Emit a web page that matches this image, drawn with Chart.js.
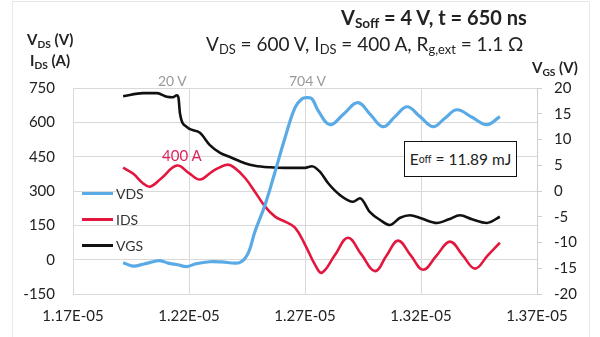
<!DOCTYPE html>
<html>
<head>
<meta charset="utf-8">
<script src="https://cdn.jsdelivr.net/npm/chart.js@4.4.1/dist/chart.umd.min.js"></script>
<style>
  body { margin: 0; background: #fff; }
  #wrap { position: relative; width: 600px; height: 337px; font-family: Lato, "Open Sans", sans-serif; color: #222; }
  #frame { position: absolute; left: 12px; top: 1px; width: 576px; height: 345px; border: 1px solid #e8e8e8; }
  canvas { position: absolute; left: 0; top: 0; }
  .t { position: absolute; white-space: nowrap; line-height: 1; }
  sub { font-size: 0.68em; vertical-align: -0.25em; line-height: 0; }
  #eoff { position: absolute; left: 404px; top: 141px; width: 111px; height: 34px; border: 1.5px solid #111;
          background: #fff; font-size: 15.5px; display: flex; align-items: center; justify-content: center; }
  .leg { position: absolute; left: 82px; font-size: 14px; color: #333; display: flex; align-items: center; }
  .leg i { display: inline-block; width: 31px; height: 3px; margin-right: 3px; }
</style>
</head>
<body>
<div id="wrap">
  <div id="frame"></div>
  <canvas id="c" width="600" height="337"></canvas>
  <div class="t" style="left:341px;top:7px;font-size:20px;font-weight:bold;">V<sub>Soff</sub> = 4 V, t = 650 ns</div>
  <div class="t" style="left:206px;top:34px;font-size:19px;">V<sub>DS</sub> = 600 V, I<sub>DS</sub> = 400 A, R<sub>g,ext</sub> = 1.1 Ω</div>
  <div class="t" style="left:27px;top:32px;font-size:15px;font-weight:bold;">V<sub>DS</sub> (V)</div>
  <div class="t" style="left:30px;top:53px;font-size:15px;font-weight:bold;">I<sub>DS</sub> (A)</div>
  <div class="t" style="left:532px;top:60px;font-size:15px;font-weight:bold;">V<sub>GS</sub> (V)</div>
  <div class="t" style="left:158px;top:74px;font-size:14px;color:#999;">20 V</div>
  <div class="t" style="left:289px;top:74px;font-size:14px;color:#999;">704 V</div>
  <div class="t" style="left:162px;top:148px;font-size:15px;color:#e0245a;">400 A</div>
  <div id="eoff">E<sub>off</sub>&nbsp;= 11.89 mJ</div>
  <div id="legend"></div>
</div>
<script>
// time stamps (s) and values
const vdsTime = [1.1916, 1.1959, 1.2002, 1.2050, 1.2075, 1.2110, 1.2150, 1.2191, 1.2230, 1.2290, 1.2340, 1.2398,
  1.2420, 1.2441, 1.2460, 1.2484, 1.2528, 1.2571, 1.2614, 1.2657, 1.2687, 1.2709, 1.2730, 1.2758, 1.2808, 1.2868,
  1.2928, 1.2982, 1.3036, 1.3088, 1.3140, 1.3196, 1.3252, 1.3303, 1.3355, 1.3420, 1.3484, 1.3540];
const vdsValues = [-13, -28, -20, -8, -4, -15, -22, -30, -18, -9, -10, -15,
  -12, 5, 40, 122, 240, 384, 533, 664, 703, 708, 703, 649, 590, 638,
  686, 634, 581, 625, 668, 625, 581, 618, 655, 622, 590, 625];

const idsTime = [1.1916, 1.1960, 1.2000, 1.2032, 1.2080, 1.2148, 1.2200, 1.2247, 1.2300, 1.2364, 1.2398, 1.2441,
  1.2484, 1.2528, 1.2571, 1.2614, 1.2657, 1.2700, 1.2743, 1.2773, 1.2829, 1.2885, 1.2943, 1.3002, 1.3051, 1.3101,
  1.3155, 1.3209, 1.3267, 1.3325, 1.3379, 1.3433, 1.3487, 1.3540];
const idsValues = [402, 375, 335, 319, 355, 411, 378, 350, 385, 415, 400, 358,
  297, 232, 188, 166, 140, 66, -22, -57, 20, 96, 23, -50, 17, 83,
  20, -44, 18, 79, 20, -39, 18, 74];

const vgsTime = [1.1916, 1.2002, 1.2062, 1.2105, 1.2130, 1.2148, 1.2155, 1.2161, 1.2191, 1.2247, 1.2290, 1.2334,
  1.2377, 1.2441, 1.2484, 1.2549, 1.2614, 1.2700, 1.2730, 1.2765, 1.2800, 1.2851, 1.2907, 1.2937, 1.2980, 1.3023,
  1.3066, 1.3110, 1.3153, 1.3200, 1.3269, 1.3320, 1.3368, 1.3420, 1.3484, 1.3540];
const vgsValues = [18.4, 19.0, 19.0, 18.3, 18.2, 18.6, 18.0, 15.1, 12.4, 11.3, 8.9, 7.4,
  6.6, 5.4, 4.9, 4.6, 4.5, 4.5, 4.8, 3.7, 1.5, -0.8, -2.1, -1.4, -4.1, -5.6,
  -6.6, -5.2, -4.7, -5.3, -6.2, -5.5, -4.7, -5.5, -6.2, -5.0];

const xTicks = [1.17e-5, 1.22e-5, 1.27e-5, 1.32e-5, 1.37e-5];
const leftTicks = [-150, 0, 150, 300, 450, 600, 750];
const rightTicks = [-20, -15, -10, -5, 0, 5, 10, 15, 20];

const toPoints = (ts, vs) => ts.map((t, i) => ({ x: t * 1e-5, y: vs[i] }));

const fmtTime = v => Number(v).toExponential(2).toUpperCase().replace(/E-(\d)$/, 'E-0$1');

const GRID = '#d9d9d9';
const tickFont = { family: 'Lato, "Open Sans", sans-serif', size: 15 };

const chart = new Chart(document.getElementById('c'), {
  type: 'line',
  data: {
    datasets: [
      { label: 'VDS', data: toPoints(vdsTime, vdsValues), borderColor: '#5aaae6', borderWidth: 3.2, yAxisID: 'y', tension: 0.4 },
      { label: 'IDS', data: toPoints(idsTime, idsValues), borderColor: '#e3173e', borderWidth: 2.6, yAxisID: 'y', tension: 0.4 },
      { label: 'VGS', data: toPoints(vgsTime, vgsValues), borderColor: '#111111', borderWidth: 2.6, yAxisID: 'y2',
        cubicInterpolationMode: 'monotone' }
    ]
  },
  options: {
    responsive: false,
    devicePixelRatio: 1,
    animation: false,
    layout: { padding: { top: 88, left: 0, right: 0, bottom: 0 } },
    elements: {
      point: { radius: 0 },
      line: { fill: false }
    },
    plugins: { legend: { display: false }, tooltip: { enabled: false } },
    scales: {
      x: {
        type: 'linear',
        min: xTicks[0],
        max: xTicks[xTicks.length - 1],
        afterBuildTicks: s => { s.ticks = xTicks.map(v => ({ value: v })); },
        afterFit: s => { s.height = 43; },
        grid: { color: GRID, drawTicks: false },
        border: { color: GRID },
        ticks: { callback: fmtTime, color: '#222', font: tickFont, padding: 13, maxRotation: 0 }
      },
      y: {
        position: 'left',
        min: leftTicks[0],
        max: leftTicks[leftTicks.length - 1],
        afterBuildTicks: s => { s.ticks = leftTicks.map(v => ({ value: v })); },
        afterFit: s => { s.width = 73; },
        grid: { color: GRID, drawTicks: false },
        border: { color: GRID },
        ticks: { color: '#222', font: tickFont, padding: 18 }
      },
      y2: {
        position: 'right',
        min: rightTicks[0],
        max: rightTicks[rightTicks.length - 1],
        afterBuildTicks: s => { s.ticks = rightTicks.map(v => ({ value: v })); },
        afterFit: s => { s.width = 63; },
        grid: { drawOnChartArea: false, color: '#cfcfcf', tickLength: 5 },
        border: { color: '#cfcfcf' },
        ticks: { color: '#222', font: tickFont, padding: 12 }
      }
    }
  }
});

// legend inside the plot, built from the datasets
const legendTops = [185, 211, 237];
document.getElementById('legend').innerHTML = chart.data.datasets.map((ds, i) =>
  `<div class="leg" style="top:${legendTops[i]}px"><i style="background:${ds.borderColor}"></i>${ds.label}</div>`
).join('');
</script>
</body>
</html>
